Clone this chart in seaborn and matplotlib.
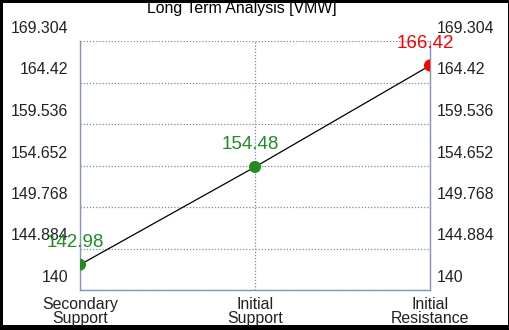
import matplotlib
matplotlib.use("Agg")
import matplotlib.pyplot as plt
import matplotlib.transforms as mtransforms
from matplotlib.patches import Rectangle
import seaborn as sns
import pandas as pd

# ---- data ----
categories = ["Secondary\nSupport", "Initial\nSupport", "Initial\nResistance"]
values = [142.98, 154.48, 166.42]
point_colors = ["#228B22", "#228B22", "#FF0000"]
y_ticks = [140, 144.884, 149.768, 154.652, 159.536, 164.42, 169.304]
y_tick_labels = ["140", "144.884", "149.768", "154.652", "159.536", "164.42", "169.304"]
title = "Long Term Analysis [VMW]"

df = pd.DataFrame({"pos": range(len(categories)), "value": values,
                   "cat": categories})

sns.set_theme(style="white")
plt.rcParams["font.family"] = ["Liberation Sans", "DejaVu Sans"]

fig = plt.figure(figsize=(5.10, 3.30), dpi=100)
fig.patch.set_facecolor("black")
fig.add_artist(Rectangle((3 / 510, 5 / 330), (510 - 5) / 510, (330 - 8) / 330,
                         transform=fig.transFigure, facecolor="white",
                         edgecolor="none", zorder=0))

ax = fig.add_axes([80 / 510, 1 - 290 / 330, 350 / 510, 249 / 330])
ax.set_facecolor("white")

sns.lineplot(data=df, x="pos", y="value", ax=ax, color="black", linewidth=0.9,
             zorder=3, legend=False)
sns.scatterplot(data=df, x="pos", y="value", hue="cat", palette=point_colors,
                ax=ax, s=75, edgecolor="none", zorder=4, legend=False)

for i, (v, c) in enumerate(zip(values, point_colors)):
    ax.annotate(f"{v:g}", (i, v), xytext=(-5, 22), textcoords="offset pixels",
                ha="center", va="center", color=c, fontsize=13.5, zorder=5,
                annotation_clip=False)

ax.set_xlim(0, len(categories) - 1)
ax.set_ylim(y_ticks[0], y_ticks[-1])
ax.set_xticks(range(len(categories)))
ax.set_xticklabels(categories, linespacing=0.88)
ax.set_yticks(y_ticks)
ax.set_yticklabels(y_tick_labels)
ax.set_xlabel("")
ax.set_ylabel("")

ax.tick_params(axis="y", left=False, right=False, labelleft=True,
               labelright=True, length=0, pad=5, labelsize=11.4,
               colors="#222222")
ax.tick_params(axis="x", bottom=False, length=0, pad=5, labelsize=11.4,
               colors="#222222")

grid_color = "#7a88a6"
ax.grid(True, axis="both", color=grid_color, linestyle=(0, (1, 1.5)),
        linewidth=0.9)
ax.set_axisbelow(True)

spine_color = "#8496b4"
for side in ["left", "right", "bottom"]:
    ax.spines[side].set_visible(True)
    ax.spines[side].set_color(spine_color)
    ax.spines[side].set_linewidth(1.0)
ax.spines["top"].set_visible(False)

fig.text(242 / 510, 1 - 9 / 330, title, ha="center", va="center",
         fontsize=11.4, color="black")

# tick labels sit above their grid lines in the reference
up = mtransforms.ScaledTranslation(0, 0.14, fig.dpi_scale_trans)
left_extra = mtransforms.ScaledTranslation(-0.05, 0.14, fig.dpi_scale_trans)
for t in ax.yaxis.get_major_ticks():
    t.label1.set_transform(t.label1.get_transform() + left_extra)
    t.label2.set_transform(t.label2.get_transform() + up)

fig.savefig("out.png", dpi=100, facecolor=fig.get_facecolor())
